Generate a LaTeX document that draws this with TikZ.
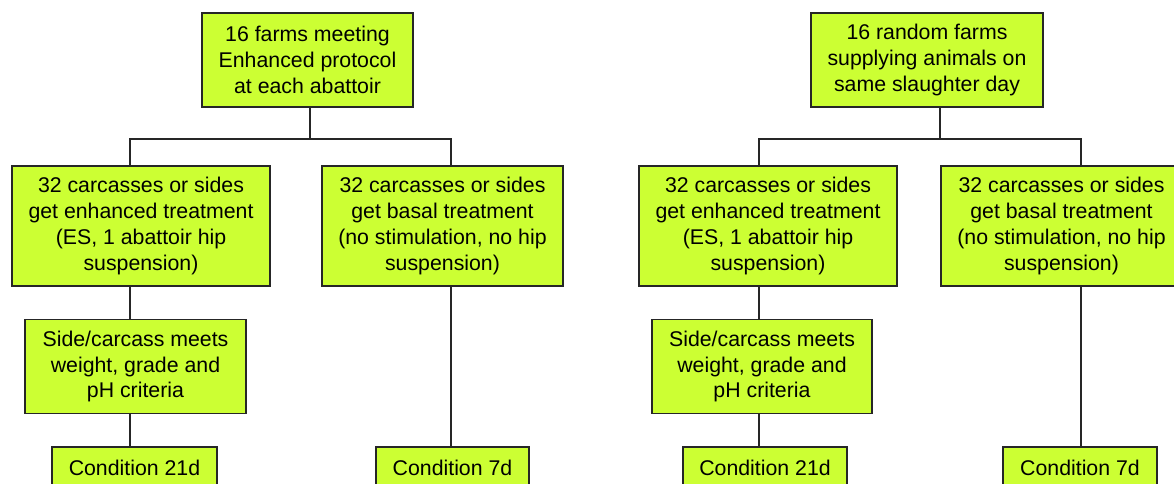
\documentclass[tikz,border=0pt]{standalone}
\usepackage{fontspec}
\setmainfont{Liberation Sans}
\definecolor{boxfill}{RGB}{204,255,51}
\tikzset{
  fbox/.style={draw=black!85, line width=1.3pt, fill=boxfill, align=center,
    inner sep=0pt, outer sep=0pt, font=\fontsize{21.3}{25.7}\selectfont},
  conn/.style={draw=black!85, line width=1.3pt}
}
\begin{document}
\begin{tikzpicture}[x=1pt,y=-1pt]
\path[use as bounding box, clip] (0,0) rectangle (1174,484);
\fill[white] (0,0) rectangle (1174,484);
% left tree
\node[fbox, minimum width=211pt, minimum height=94pt] (t1) at (307.5,60)
  {16 farms meeting\\Enhanced protocol\\at each abattoir};
\node[fbox, minimum width=258pt, minimum height=120pt] (a1) at (141,226)
  {32 carcasses or sides\\get enhanced treatment\\(ES, 1 abattoir hip\\suspension)};
\node[fbox, minimum width=241pt, minimum height=120pt] (b1) at (442.5,226)
  {32 carcasses or sides\\get basal treatment\\(no stimulation, no hip\\suspension)};
\node[fbox, minimum width=221pt, minimum height=94pt] (c1) at (135.5,366.5)
  {Side/carcass meets\\weight, grade and\\pH criteria};
\node[fbox, minimum width=165pt, minimum height=42pt] (d1) at (134.5,468)
  {Condition 21d};
\node[fbox, minimum width=153pt, minimum height=42pt] (e1) at (452.5,468)
  {Condition 7d};
\coordinate (jt1) at (310,139);
\coordinate (ja1) at (130,139);
\coordinate (jb1) at (451,139);
\draw[conn] (t1.south -| jt1) -- (jt1);
\draw[conn] (a1.north -| ja1) -- (ja1) -- (jb1) -- (b1.north -| jb1);
\draw[conn] (a1.south -| ja1) -- (c1.north -| ja1);
\draw[conn] (c1.south -| ja1) -- (d1.north -| ja1);
\draw[conn] (b1.south -| jb1) -- (e1.north -| jb1);
% right tree
\node[fbox, minimum width=232pt, minimum height=94pt] (t2) at (927,60)
  {16 random farms\\supplying animals on\\same slaughter day};
\node[fbox, minimum width=258pt, minimum height=120pt] (a2) at (768,226)
  {32 carcasses or sides\\get enhanced treatment\\(ES, 1 abattoir hip\\suspension)};
\node[fbox, minimum width=241pt, minimum height=120pt] (b2) at (1061.5,226)
  {32 carcasses or sides\\get basal treatment\\(no stimulation, no hip\\suspension)};
\node[fbox, minimum width=220pt, minimum height=94pt] (c2) at (762,366.5)
  {Side/carcass meets\\weight, grade and\\pH criteria};
\node[fbox, minimum width=164pt, minimum height=42pt] (d2) at (765,468)
  {Condition 21d};
\node[fbox, minimum width=154pt, minimum height=42pt] (e2) at (1080,468)
  {Condition 7d};
\coordinate (jt2) at (940,139);
\coordinate (ja2) at (759,139);
\coordinate (jb2) at (1081,139);
\draw[conn] (t2.south -| jt2) -- (jt2);
\draw[conn] (a2.north -| ja2) -- (ja2) -- (jb2) -- (b2.north -| jb2);
\draw[conn] (a2.south -| ja2) -- (c2.north -| ja2);
\draw[conn] (c2.south -| ja2) -- (d2.north -| ja2);
\draw[conn] (b2.south -| jb2) -- (e2.north -| jb2);
\end{tikzpicture}
\end{document}
